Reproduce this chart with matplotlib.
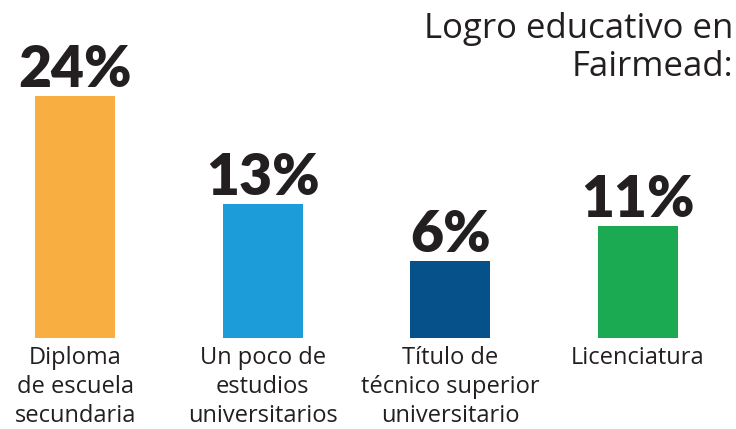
import matplotlib.pyplot as plt
import numpy as np

categories = ["Diploma\nde escuela\nsecundaria",
              "Un poco de\nestudios\nuniversitarios",
              "Título de\ntécnico superior\nuniversitario",
              "Licenciatura"]
heights = [24.0, 13.3, 7.6, 11.1]
labels = ["24%", "13%", "6%", "11%"]
colors = ["#F9AE41", "#1C9DD9", "#065189", "#1BAA52"]
title = "Logro educativo en\nFairmead:"

txt = "#231F20"

fig = plt.figure(figsize=(7.36, 4.29), dpi=100)
ax = fig.add_axes([0, 91 / 429, 1, 338 / 429])

x = np.arange(len(categories))
ax.bar(x, heights, width=0.426, color=colors)

for xi, h, lab in zip(x, heights, labels):
    ax.annotate(lab, (xi, h), xytext=(0, 0), textcoords="offset points",
                ha="center", va="bottom", fontsize=41, fontweight="heavy",
                color=txt, family="Lato")

ax.set_xlim(-0.4, 3.522)
ax.set_ylim(0, 33.5)
ax.set_xticks(x)
ax.set_xticklabels(categories, fontsize=17, color=txt, family="Open Sans",
                   linespacing=1.27)
ax.tick_params(axis="x", length=0, pad=6)
ax.set_yticks([])
for s in ax.spines.values():
    s.set_visible(False)

fig.text(0.996, 0.972, title, ha="right", va="top", fontsize=25,
         color=txt, family="Open Sans", linespacing=1.15)

fig.savefig("out.png", dpi=100)
